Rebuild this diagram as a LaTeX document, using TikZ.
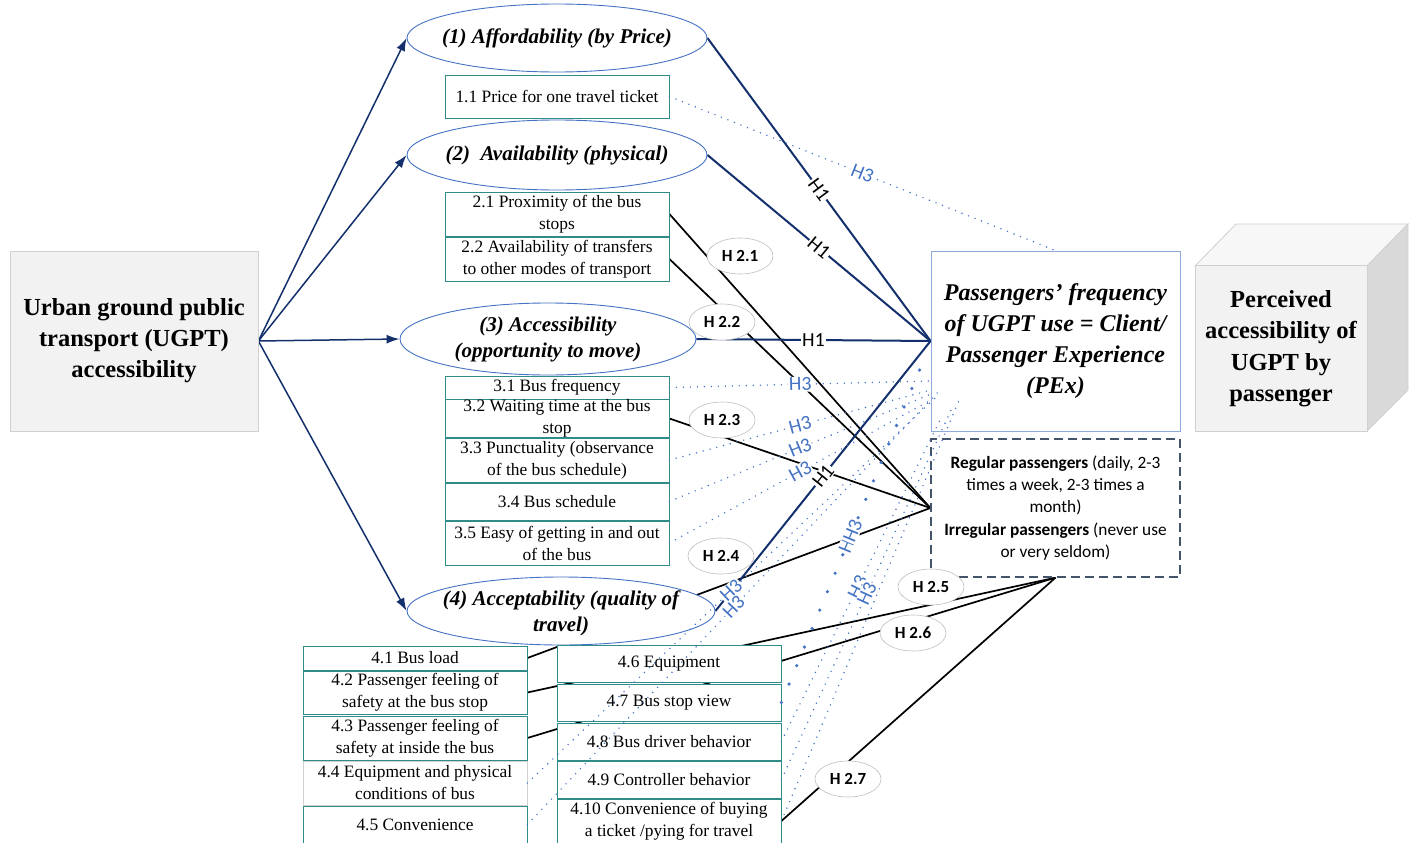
\documentclass[tikz,border=0pt]{standalone}
\usepackage{fontspec}
\setmainfont{Liberation Serif}
\newfontfamily\calibri{Carlito}
\usetikzlibrary{arrows.meta,shapes.geometric}
\definecolor{navy}{HTML}{13306C}
\definecolor{ellc}{HTML}{4472C4}
\definecolor{tealc}{HTML}{2F8C88}
\definecolor{pexc}{HTML}{8EAADB}
\definecolor{dashc}{HTML}{44546A}
\definecolor{greyf}{HTML}{F2F2F2}
\definecolor{greyb}{HTML}{D0D0D0}
\newcommand\fs[2]{\fontsize{#1}{#2}\selectfont}
\pgfdeclarelayer{bg}
\pgfdeclarelayer{fg}
\pgfsetlayers{bg,main,fg}
\begin{document}
\begin{tikzpicture}[x=1pt,y=-1pt,
  bx/.style={draw=tealc, fill=white, line width=0.8pt, minimum width=224pt, inner sep=0pt, align=center, font=\fs{17.4}{22}},
  ell/.style={ellipse, draw=ellc, fill=white, line width=0.9pt, inner sep=0pt},
  etxt/.style={font=\bfseries\itshape\fs{21}{26}, align=center, inner sep=0pt},
  hlab/.style={ellipse, draw=black!25, fill=white, line width=0.6pt, minimum width=66pt, minimum height=36pt, inner sep=0pt, font=\calibri\bfseries\fs{17}{18}},
  hone/.style={fill=white, inner sep=1pt, font=\calibri\fs{20}{20}, sloped, pos=0.5},
  hthree/.style={fill=white, inner sep=1pt, text=ellc, font=\calibri\fs{20}{20}, sloped},
  honeline/.style={draw=navy, line width=2pt},
  htwoline/.style={draw=black, line width=1.7pt},
  dotl/.style={draw=ellc, line width=1.6pt, line cap=round, dash pattern=on 0pt off 7pt},
  bigdot/.style={draw=ellc, line width=3.6pt, line cap=round, dash pattern=on 0pt off 20pt},
  arr/.style={draw=navy, line width=1.5pt, -{Latex[length=13pt,width=9pt]}}
]
\useasboundingbox (0,0) rectangle (1414,843);

% ---------- main boxes ----------
\node[draw=greyb, fill=greyf, line width=0.8pt, minimum width=248pt, minimum height=180pt, align=center, font=\bfseries\fs{24.5}{31}] (ugpt) at (134,341) {Urban ground public\\transport (UGPT)\\accessibility};
\node[draw=pexc, fill=white, line width=0.9pt, minimum width=249pt, minimum height=180pt, inner sep=0pt, align=center, font=\bfseries\itshape\fs{24}{31}] (pex) at (1055.5,341) {Passengers’ frequency\\of UGPT use = Client/\\Passenger Experience\\(PEx)};
\node[draw=dashc, fill=white, line width=1.3pt, dash pattern=on 9pt off 5pt, minimum width=249pt, minimum height=138pt, inner sep=0pt, align=center, font=\calibri\fs{17.3}{22.3}] (reg) at (1055.5,508) {\textbf{Regular passengers} (daily, 2-3\\times a week, 2-3 times a\\month)\\\textbf{Irregular passengers} (never use\\or very seldom)};

% cube
\fill[greyf!60!white, draw=greyb, line width=0.8pt] (1195,266) -- (1236,224) -- (1408,224) -- (1367,266) -- cycle;
\fill[black!15, draw=greyb, line width=0.8pt] (1367,266) -- (1408,224) -- (1408,390) -- (1367,431) -- cycle;
\node[draw=greyb, fill=greyf, line width=0.8pt, minimum width=172pt, minimum height=166pt, inner sep=0pt, align=center, font=\bfseries\fs{24.5}{31.5}] (cube) at (1281,348.5) {Perceived\\accessibility of\\UGPT by\\passenger};

% ---------- ellipses ----------
\node[ell, minimum width=300pt, minimum height=68pt] (e1) at (557,38) {};
\node[etxt] (t1) at (557,38) {(1) Affordability (by Price)};
\node[ell, minimum width=300pt, minimum height=70pt] (e2) at (557,155) {};
\node[etxt] (t2) at (557,155) {(2)~~Availability (physical)};
\node[ell, minimum width=296pt, minimum height=72pt] (e3) at (548,339) {};
\node[etxt] (t3) at (548,339) {(3) Accessibility\\(opportunity to move)};
\node[ell, minimum width=308pt, minimum height=68pt] (e4) at (561,611) {};
\node[etxt] (t4) at (561,613) {(4) Acceptability (quality of\\travel)};

% ---------- item boxes ----------
\node[bx, minimum height=43pt] (b11) at (557,96.5) {1.1 Price for one travel ticket};
\node[bx, minimum height=44pt] (b21) at (557,214) {2.1 Proximity of the bus\\stops};
\node[bx, minimum height=44pt] (b22) at (557,259) {2.2 Availability of transfers\\to other modes of transport};
\node[bx, minimum height=23pt] (b31) at (557,387.5) {3.1 Bus frequency};
\node[bx, minimum height=37pt] (b32) at (557,418.5) {3.2 Waiting time at the bus\\stop};
\node[bx, minimum height=44pt] (b33) at (557,460) {3.3 Punctuality (observance\\of the bus schedule)};
\node[bx, minimum height=37pt] (b34) at (557,501.5) {3.4 Bus schedule};
\node[bx, minimum height=44pt] (b35) at (557,543) {3.5 Easy of getting in and out\\of the bus};

\node[bx, minimum height=24pt] (b41) at (415,658) {4.1 Bus load};
\node[bx, minimum height=43pt] (b42) at (415,692.5) {4.2 Passenger feeling of\\safety at the bus stop};
\node[bx, minimum height=44pt] (b43) at (415,738) {4.3 Passenger feeling of\\safety at inside the bus};
\node[bx, draw=greyb, minimum height=44pt] (b44) at (415,783) {4.4 Equipment and physical\\conditions of bus};
\node[bx, minimum height=37pt] (b45) at (415,824.5) {4.5 Convenience};
\node[bx, minimum height=37pt] (b46) at (669,663.5) {4.6 Equipment};
\node[bx, minimum height=37pt] (b47) at (669,702.5) {4.7 Bus stop view};
\node[bx, minimum height=37pt] (b48) at (669,741.5) {4.8 Bus driver behavior};
\node[bx, minimum height=37pt] (b49) at (669,779.5) {4.9 Controller behavior};
\node[bx, minimum height=44pt] (b410) at (669,821) {4.10 Convenience of buying\\a ticket /pying for travel};

% ---------- coordinates ----------
\coordinate (p1) at (931,381);
\coordinate (p2) at (931,390);
\coordinate (p3) at (931,394);
\coordinate (p4) at (931,400);
\coordinate (p5) at (935,398);
\coordinate (p6) at (940,390);
\coordinate (p7) at (927,352);
\coordinate (p8) at (940,420);
\coordinate (p9) at (952,408);
\coordinate (p10) at (960,398);

% ---------- background connectors ----------
\begin{pgfonlayer}{bg}
  \draw[arr] (ugpt.east) -- (e1.west);
  \draw[arr] (ugpt.east) -- (e2.west);
  \draw[arr] (ugpt.east) -- (e3.west);
  \draw[arr] (ugpt.east) -- (e4.west);
  % H2 lines
  \draw[htwoline] (b21.east) -- (reg.west);
  \draw[htwoline] (b22.east) -- (reg.west);
  \draw[htwoline] (b32.east) -- (reg.west);
  \draw[htwoline] (b41.east) -- (reg.west);
  \draw[htwoline] (b42.east) -- (reg.south);
  \draw[htwoline] (b43.east) -- (reg.south);
  \draw[htwoline] (b410.east) -- (reg.south);
  % H1 lines
  \draw[honeline] (e1.east) -- node[hone]{H1} (pex.west);
  \draw[honeline] (e2.east) -- node[hone]{H1} (pex.west);
  \draw[honeline] (e3.east) -- node[hone]{H1} (pex.west);
  \draw[honeline] (e4.east) -- node[hone]{H1} (pex.west);
\end{pgfonlayer}

% ---------- foreground: H3 dotted connectors and labels ----------
\begin{pgfonlayer}{fg}
  \draw[dotl] (b11.east) -- node[hthree, pos=0.5]{H3} (pex.north);
  \draw[dotl] (b31.east) -- node[hthree, pos=0.5]{H3} (p1);
  \draw[dotl] (b33.east) -- node[hthree, pos=0.5]{H3} (p2);
  \draw[dotl] (b34.east) -- node[hthree, pos=0.5]{H3} (p3);
  \draw[dotl] (b35.east) -- node[hthree, pos=0.5]{H3} (p4);
  \draw[dotl] (b44.east) -- node[hthree, pos=0.5]{H3} (p5);
  \draw[dotl] (b45.east) -- node[hthree, pos=0.5]{H3} (p6);
  \draw[bigdot] (b47.east) -- (p7);
  \path (b47.east) -- node[hthree, pos=0.46]{H3} node[hthree, pos=0.49]{H3} (p7);
  \draw[dotl] (b48.east) -- node[hthree, pos=0.48]{H3} (p8);
  \draw[dotl] (b49.east) -- node[hthree, pos=0.5]{H3} (p9);
  \draw[dotl] (b410.east) -- (p10);

  \node[hlab] (h21) at (740,256) {H 2.1};
  \node[hlab] (h22) at (722,322) {H 2.2};
  \node[hlab] (h23) at (722,420) {H 2.3};
  \node[hlab] (h24) at (721,556) {H 2.4};
  \node[hlab] (h25) at (931,587) {H 2.5};
  \node[hlab] (h26) at (913,633) {H 2.6};
  \node[hlab] (h27) at (848,779) {H 2.7};
\end{pgfonlayer}
\end{tikzpicture}
\end{document}
